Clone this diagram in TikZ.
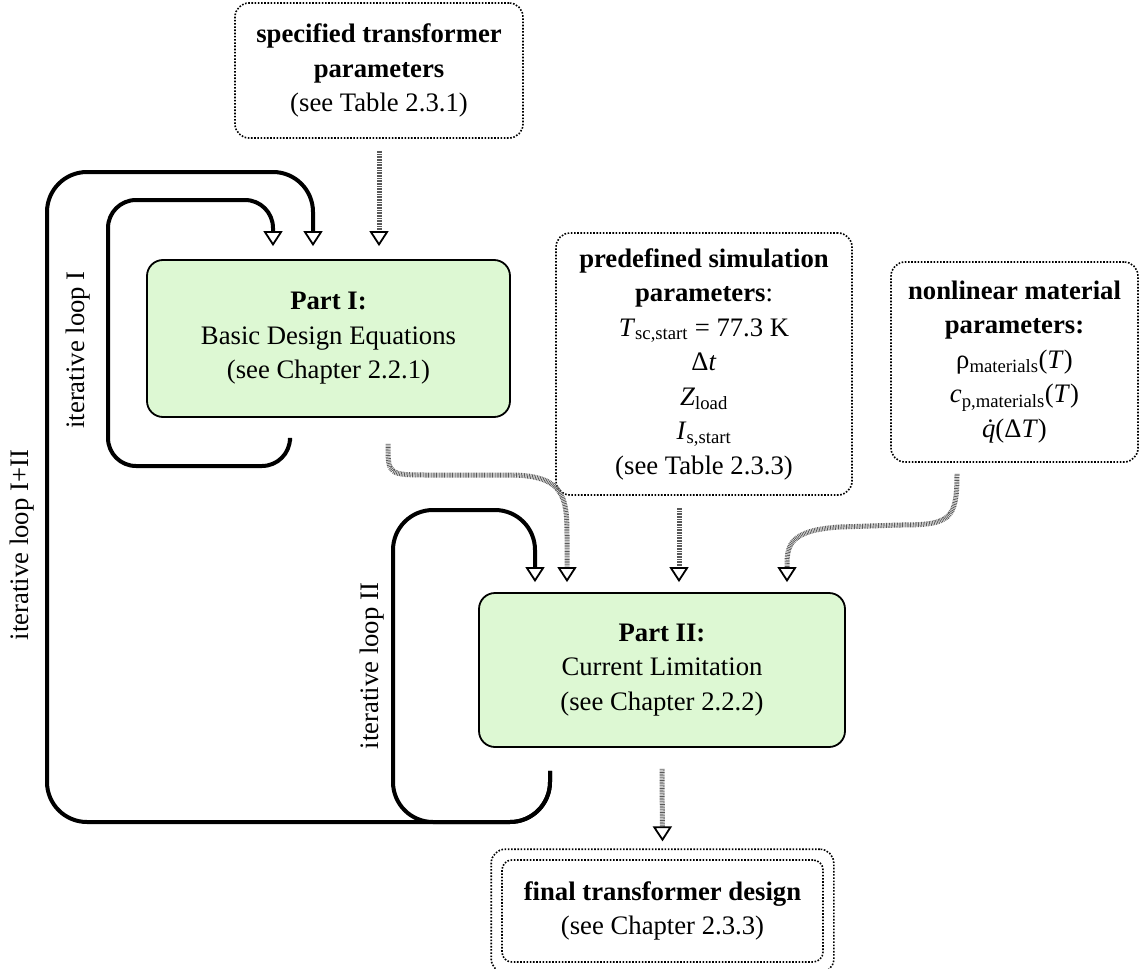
\documentclass[tikz,border=0pt]{standalone}
\usepackage{fontspec}
\setmainfont{Liberation Serif}
\usetikzlibrary{arrows.meta,positioning,fit}
\definecolor{partgreen}{HTML}{DDF8D3}

\begin{document}
\begin{tikzpicture}[
  x=1pt, y=1pt,
  every node/.style={font=\fontsize{26.7}{34.5}\selectfont},
  part/.style={rectangle, draw, line width=1.8pt, rounded corners=16pt, fill=partgreen, align=center, inner sep=0pt},
  info/.style={rectangle, draw, line width=1.6pt, dash pattern=on 1.6pt off 1.6pt, rounded corners=14pt, align=center, inner sep=0pt},
  tip/.style={-{Triangle[open, length=15pt, width=19pt, line width=1.8pt, color=black]}},
  loopline/.style={tip, line width=4pt, rounded corners=40pt},
  feed/.style={tip, line width=5pt, black!65, dash pattern=on 0.8pt off 0.8pt},
]
\useasboundingbox (0,0) rectangle (1141,-969);

\node[info, minimum width=288pt, minimum height=135pt] (spec) at (379,-70.5) {\textbf{specified transformer}\\\textbf{parameters}\\(see Table 2.3.1)};
\node[info, minimum width=296pt, minimum height=262pt] (sim) at (704,-364) {\textbf{predefined simulation}\\\textbf{parameters}:\\\textit{T}\textsubscript{sc,start} = 77.3 K\\Δ\textit{t}\\\textit{Z}\textsubscript{load}\\\textit{I}\textsubscript{s,start}\\(see Table 2.3.3)};
\node[info, minimum width=247pt, minimum height=200pt] (mat) at (1014.5,-362) {\textbf{nonlinear material}\\\textbf{parameters:}\\ρ\textsubscript{materials}(\textit{T})\\\textit{c}\textsubscript{p,materials}(\textit{T})\\{\itshape\accent"02D9 q}(Δ\textit{T})};

\node[part, minimum width=363pt, minimum height=157pt] (part1) at (328.5,-338.5) {\textbf{Part I:}\\Basic Design Equations\\(see Chapter 2.2.1)};
\node[part, minimum width=366pt, minimum height=154pt] (part2) at (662,-670) {\textbf{Part II:}\\Current Limitation\\(see Chapter 2.2.2)};

\node[info, rounded corners=10pt, minimum width=321pt, minimum height=102pt] (final) at (662.5,-911) {\textbf{final transformer design}\\(see Chapter 2.3.3)};
\node[info, fit=(final), inner sep=10pt] (finalframe) {};

\node[rotate=90] (lab1) at (78,-350) {iterative loop I};
\node[rotate=90] (lab2) at (372,-666) {iterative loop II};
\node[rotate=90] (lab12) at (22,-545) {iterative loop I+II};

% iteration loops
\draw[loopline, rounded corners=28pt, shorten <=23pt, shorten >=13pt] ([xshift=-38.5pt]part1.south) -- (290,-466) -- (108,-466) -- (108,-200) -- (273,-200) -- ([xshift=-55.5pt]part1.north);
\draw[loopline, shorten <=23pt, shorten >=13pt] ([xshift=-112pt]part2.south) -- (550,-822) -- (47,-822) -- (47,-172) -- (313,-172) -- ([xshift=-15.5pt]part1.north);
\draw[loopline, shorten <=23pt, shorten >=10pt] ([xshift=-112pt]part2.south) -- (550,-822) -- (393,-822) -- (393,-510) -- (535,-510) -- ([xshift=-127pt]part2.north);

% inputs and outputs
\draw[feed, shorten <=12pt, shorten >=13pt] (spec.south) -- (spec.south |- part1.north);
\draw[feed] ([xshift=59.5pt, yshift=-26pt]part1.south) .. controls (388,-475) and (388,-475) .. (430,-475) -- (510,-475) .. controls (567,-475) and (567,-500) .. (567,-540) -- ([xshift=-95pt, yshift=10pt]part2.north);
\draw[feed] ([xshift=-25pt, yshift=-12pt]sim.south) -- ([xshift=17pt, yshift=10pt]part2.north);
\draw[feed] ([xshift=-57.5pt, yshift=-11pt]mat.south) .. controls (957,-520) and (950,-525) .. (900,-525) -- (840,-527) .. controls (790,-530) and (787,-545) .. (787,-565) -- ([xshift=125pt, yshift=10pt]part2.north);
\draw[feed] ([yshift=-21pt]part2.south) -- ([yshift=7pt]finalframe.north);

\end{tikzpicture}
\end{document}
